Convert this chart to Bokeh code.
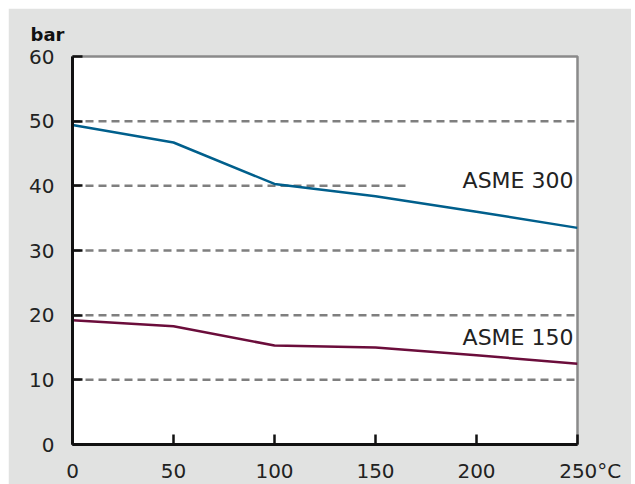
from bokeh.plotting import figure
from bokeh.models import Label, FixedTicker, Range1d, Title
from bokeh.embed import file_html
from bokeh.resources import INLINE

temp = [0, 50, 100, 150, 200, 250]
asme300 = [49.4, 46.7, 40.3, 38.4, 36.0, 33.5]
asme150 = [19.2, 18.3, 15.3, 15.0, 13.8, 12.5]
x_ticks = [0, 50, 100, 150, 200, 250]
x_tick_labels = {250: "\u2007\u2007250°C"}
y_ticks = [0, 10, 20, 30, 40, 50, 60]
grid_y = [10, 20, 30, 40, 50]
grid_end = [250, 250, 250, 165, 250]

FONT = "DejaVu Sans"
BG = "#e1e2e1"

p = figure(width=623, height=476, output_backend="svg", toolbar_location=None,
           x_range=Range1d(0, 250), y_range=Range1d(0, 60),
           min_border_left=64, min_border_top=48, min_border_right=54, min_border_bottom=40)
p.margin = (8, 0, 0, 8)
p.frame_width = 505
p.frame_height = 388
p.background_fill_color = "white"
p.border_fill_color = BG
p.outline_line_color = "#8a8a8a"
p.outline_line_width = 2.5
p.xgrid.visible = False
p.ygrid.visible = False

p.segment(x0=[0]*len(grid_y), y0=grid_y, x1=grid_end, y1=grid_y,
          line_color="#7f7f7f", line_width=2.5, line_dash="8 5")

p.line(temp, asme300, line_color="#005f8c", line_width=2.5)
p.line(temp, asme150, line_color="#6b0d3b", line_width=2.5)

for ax in (p.xaxis, p.yaxis):
    ax.axis_line_color = "#111111"
    ax.axis_line_width = 3
    ax.major_tick_line_color = "#111111"
    ax.major_tick_line_width = 2.5
    ax.major_tick_in = 10
    ax.major_tick_out = 0
    ax.minor_tick_line_color = None
    ax.major_label_text_font = FONT
    ax.major_label_text_font_size = "20px"
    ax.major_label_text_color = "#222222"

p.xaxis.ticker = FixedTicker(ticks=x_ticks)
p.xaxis.major_label_overrides = x_tick_labels
p.yaxis.ticker = FixedTicker(ticks=y_ticks)
p.xaxis.major_label_standoff = 14
p.yaxis.major_label_standoff = 18

p.add_layout(Label(x=248, y=40.9, text="ASME 300", text_align="right", text_baseline="middle",
                   text_font=FONT, text_font_size="22px", text_color="#222222"))
p.add_layout(Label(x=248, y=16.6, text="ASME 150", text_align="right", text_baseline="middle",
                   text_font=FONT, text_font_size="22px", text_color="#222222"))

t = Title(text="bar", align="left", offset=-42, standoff=24, text_font=FONT,
          text_font_size="18px", text_font_style="bold", text_color="#111111")
p.add_layout(t, "above")

open("out.html", "w").write(file_html(p, INLINE))
